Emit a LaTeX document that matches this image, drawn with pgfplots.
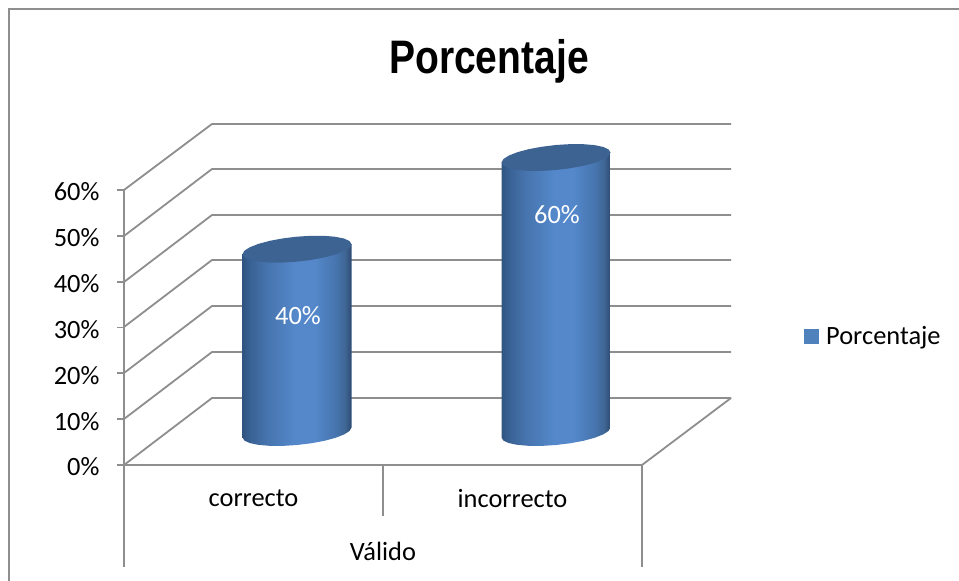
\documentclass[border=0pt]{standalone}
\usepackage{graphicx}
\usepackage{fontspec}
\setmainfont{Carlito}
\newfontfamily\titlefont{Liberation Sans}
\usepackage{pgfplots}
\pgfplotsset{compat=1.18}
\definecolor{gridc}{HTML}{8E8E8E}
\definecolor{legc}{HTML}{4F81BD}
\definecolor{topc}{HTML}{3D6392}
\definecolor{cylA}{HTML}{2F5482}
\definecolor{cylB}{HTML}{3A6396}
\definecolor{cylC}{HTML}{4674AD}
\definecolor{cylD}{HTML}{5488CA}
\definecolor{cylE}{HTML}{3F6695}
\definecolor{cylAA}{HTML}{2D4B72}
\pgfdeclarehorizontalshading{cyl}{100bp}{
  color(0bp)=(cylA); color(25bp)=(cylA); color(29bp)=(cylB); color(36bp)=(cylC); color(49bp)=(cylD);
  color(58bp)=(cylD); color(68bp)=(cylC); color(72bp)=(cylE); color(75bp)=(cylAA); color(100bp)=(cylAA)}
\begin{document}
\begin{tikzpicture}[x=1pt,y=1pt]
\useasboundingbox (0,0) rectangle (959,581);
\fill[white] (0,0) rectangle (959,581);
% frame and walls, in pixel positions of the page
\begin{scope}[y=-1pt,yshift=581pt,draw=gridc,line width=1.8pt]
\draw (959,9) -- (9,9) -- (9,581);
\foreach \f/\b in {465/398,419/352,373/306,327/260,282/215,236/169,190/124}{
  \draw[line join=round] (124,\f) -- (212,\b) -- (731,\b);
}
\draw (642,465) -- (731,398);
\draw (124,465) -- (124,567);
\draw (383,465) -- (383,516);
\draw (642,465) -- (642,567);
\end{scope}
\begin{axis}[
  at={(124pt,116pt)},anchor=south west,
  scale only axis,width=518pt,height=275pt,
  xmin=124,xmax=642,ymin=0,ymax=60,
  clip=false,
  axis x line*=bottom,axis y line*=left,
  axis line style={draw=gridc,line width=1.8pt,-},
  xtick={253.5,512.5},xticklabels={correcto,incorrecto},
  major x tick style={draw=none},
  ytick={0,10,20,30,40,50,60},
  yticklabel={\pgfmathprintnumber{\tick}\%},
  /pgf/number format/assume math mode=true,
  major tick length=7pt,
  y tick style={draw=gridc,line width=1.8pt},
  tick align=outside,
  ticklabel style={font=\fontsize{26.4}{30}\selectfont,text=black},
  yticklabel style={yshift=-2pt,xshift=-14pt},
  xticklabel style={yshift=-14pt},
]
% correcto 40
\addplot[shading=cyl,draw=none] coordinates {
 (242.5,46.00) (242.5,6.00) (244.4,5.33) (249.8,4.78) (258.5,4.39) (269.75,4.18) (282.9,4.17)
 (297,4.36) (311.1,4.74) (324.25,5.27) (335.5,5.93) (344.2,6.67) (349.6,7.44) (351.5,8.18)
 (351.5,48.18)} -- cycle;
\addplot[fill=topc,draw=none] coordinates {
 (351.5,48.18) (349.6,48.85) (344.2,49.40) (335.5,49.79) (324.25,50.00) (311.1,50.01) (297,49.82)
 (282.9,49.44) (269.75,48.91) (258.5,48.25) (249.8,47.51) (244.4,46.74) (242.5,46.00)
 (244.4,45.33) (249.8,44.78) (258.5,44.39) (269.75,44.18) (282.9,44.17) (297,44.36)
 (311.1,44.74) (324.25,45.27) (335.5,45.93) (344.2,46.67) (349.6,47.44)} -- cycle;
% incorrecto 60
\addplot[shading=cyl,draw=none] coordinates {
 (501.5,66.00) (501.5,6.00) (503.4,5.33) (508.8,4.78) (517.5,4.39) (528.75,4.18) (541.9,4.17)
 (556,4.36) (570.1,4.74) (583.25,5.27) (594.5,5.93) (603.2,6.67) (608.6,7.44) (610.5,8.18)
 (610.5,68.18)} -- cycle;
\addplot[fill=topc,draw=none] coordinates {
 (610.5,68.18) (608.6,68.85) (603.2,69.40) (594.5,69.79) (583.25,70.00) (570.1,70.01) (556,69.82)
 (541.9,69.44) (528.75,68.91) (517.5,68.25) (508.8,67.51) (503.4,66.74) (501.5,66.00)
 (503.4,65.33) (508.8,64.78) (517.5,64.39) (528.75,64.18) (541.9,64.17) (556,64.36)
 (570.1,64.74) (583.25,65.27) (594.5,65.93) (603.2,66.67) (608.6,67.44)} -- cycle;
\node[text=white,font=\fontsize{26.4}{30}\selectfont] at (axis cs:298,32.7) {40\%};
\node[text=white,font=\fontsize{26.4}{30}\selectfont] at (axis cs:557,54.6) {60\%};
\end{axis}
\begin{scope}[y=-1pt,yshift=581pt]
\node[font=\titlefont\bfseries\fontsize{47}{50}\selectfont,text=black] at (489,61) {\scalebox{.83}[1]{Porcentaje}};
\node[font=\fontsize{26.4}{30}\selectfont] at (383,551) {Válido};
\fill[legc] (804,329) rectangle (819,344);
\node[font=\fontsize{26.4}{30}\selectfont,anchor=west,inner sep=0pt] at (826,338) {Porcentaje};
\end{scope}
\end{tikzpicture}
\end{document}
